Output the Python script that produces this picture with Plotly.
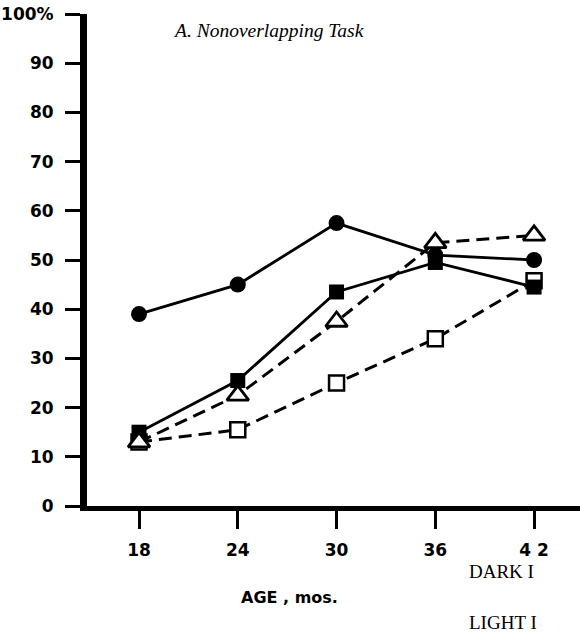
import plotly.graph_objects as go

# ---- data ----
ages = [18, 24, 30, 36, 42]
x_tick_labels = ["18", "24", "30", "36", "4 2"]
y_ticks = [0, 10, 20, 30, 40, 50, 60, 70, 80, 90, 100]
y_tick_labels = ["0", "10", "20", "30", "40", "50", "60", "70", "80", "90", "100%"]

filled_circle = [39, 45, 57.5, 51, 50]
filled_square = [15, 25.5, 43.5, 49.5, 44.5]
open_triangle = [13, 22.5, 37.5, 53.5, 55]
open_square = [13, 15.5, 25, 34, 45.8]

title_text = "A. Nonoverlapping Task"
x_title = "AGE , mos."
legend_dark = "DARK I"
legend_light = "LIGHT I"

fig = go.Figure()

fig.add_trace(go.Scatter(
    x=ages, y=open_square, mode="lines+markers",
    line=dict(color="black", width=3, dash="13px,7px"),
    marker=dict(symbol="square", size=15, color="white",
                line=dict(color="black", width=2.5)),
    showlegend=False, cliponaxis=False))

fig.add_trace(go.Scatter(
    x=ages, y=filled_circle, mode="lines+markers",
    line=dict(color="black", width=2.8),
    marker=dict(symbol="circle", size=16, color="black"),
    showlegend=False, cliponaxis=False))

fig.add_trace(go.Scatter(
    x=ages, y=filled_square, mode="lines+markers",
    line=dict(color="black", width=2.8),
    marker=dict(symbol="square", size=15, color="black"),
    showlegend=False, cliponaxis=False))

fig.add_trace(go.Scatter(
    x=ages, y=open_triangle, mode="lines+markers",
    line=dict(color="black", width=3, dash="13px,7px"),
    marker=dict(symbol="triangle-up", size=19, color="white",
                line=dict(color="black", width=2.8)),
    showlegend=False, cliponaxis=False))

tick_font = dict(family="DejaVu Sans, Arial, sans-serif", size=17, color="black")
serif = "Liberation Serif, Times New Roman, serif"

fig.update_layout(
    width=580, height=636,
    margin=dict(l=87, r=0, t=14, b=130),
    paper_bgcolor="white", plot_bgcolor="white",
    xaxis=dict(
        range=[14.84, 44.79], tickmode="array", tickvals=ages,
        ticktext=["<b>%s</b>" % t for t in x_tick_labels],
        ticks="outside", ticklen=18, tickwidth=2.5, tickcolor="black",
        ticklabelstandoff=7,
        showline=True, linecolor="black", linewidth=5,
        showgrid=False, zeroline=False, tickfont=tick_font),
    yaxis=dict(
        range=[0, 100], tickmode="array", tickvals=y_ticks,
        ticktext=["<b>%s</b>" % t for t in y_tick_labels],
        ticks="outside", ticklen=15, tickwidth=3, tickcolor="black",
        ticklabelstandoff=8,
        showline=True, linecolor="black", linewidth=7,
        showgrid=False, zeroline=False, tickfont=tick_font),
    annotations=[
        dict(text="<i>%s</i>" % title_text, xref="paper", yref="paper",
             x=0.17, y=0.967, xanchor="left", yanchor="middle", showarrow=False,
             font=dict(family=serif, size=19.5, color="black")),
        dict(text="<b>%s</b>" % x_title, xref="paper", yref="paper",
             x=0.41, y=-0.186, xanchor="center", yanchor="middle", showarrow=False,
             font=dict(family="DejaVu Sans, Arial, sans-serif", size=16, color="black")),
        dict(text=legend_dark, xref="paper", yref="paper",
             x=0.77, y=-0.134, xanchor="left", yanchor="middle", showarrow=False,
             font=dict(family=serif, size=19, color="black")),
        dict(text=legend_light, xref="paper", yref="paper",
             x=0.77, y=-0.236, xanchor="left", yanchor="middle", showarrow=False,
             font=dict(family=serif, size=19, color="black")),
    ],
)

fig.write_html("out.html")
